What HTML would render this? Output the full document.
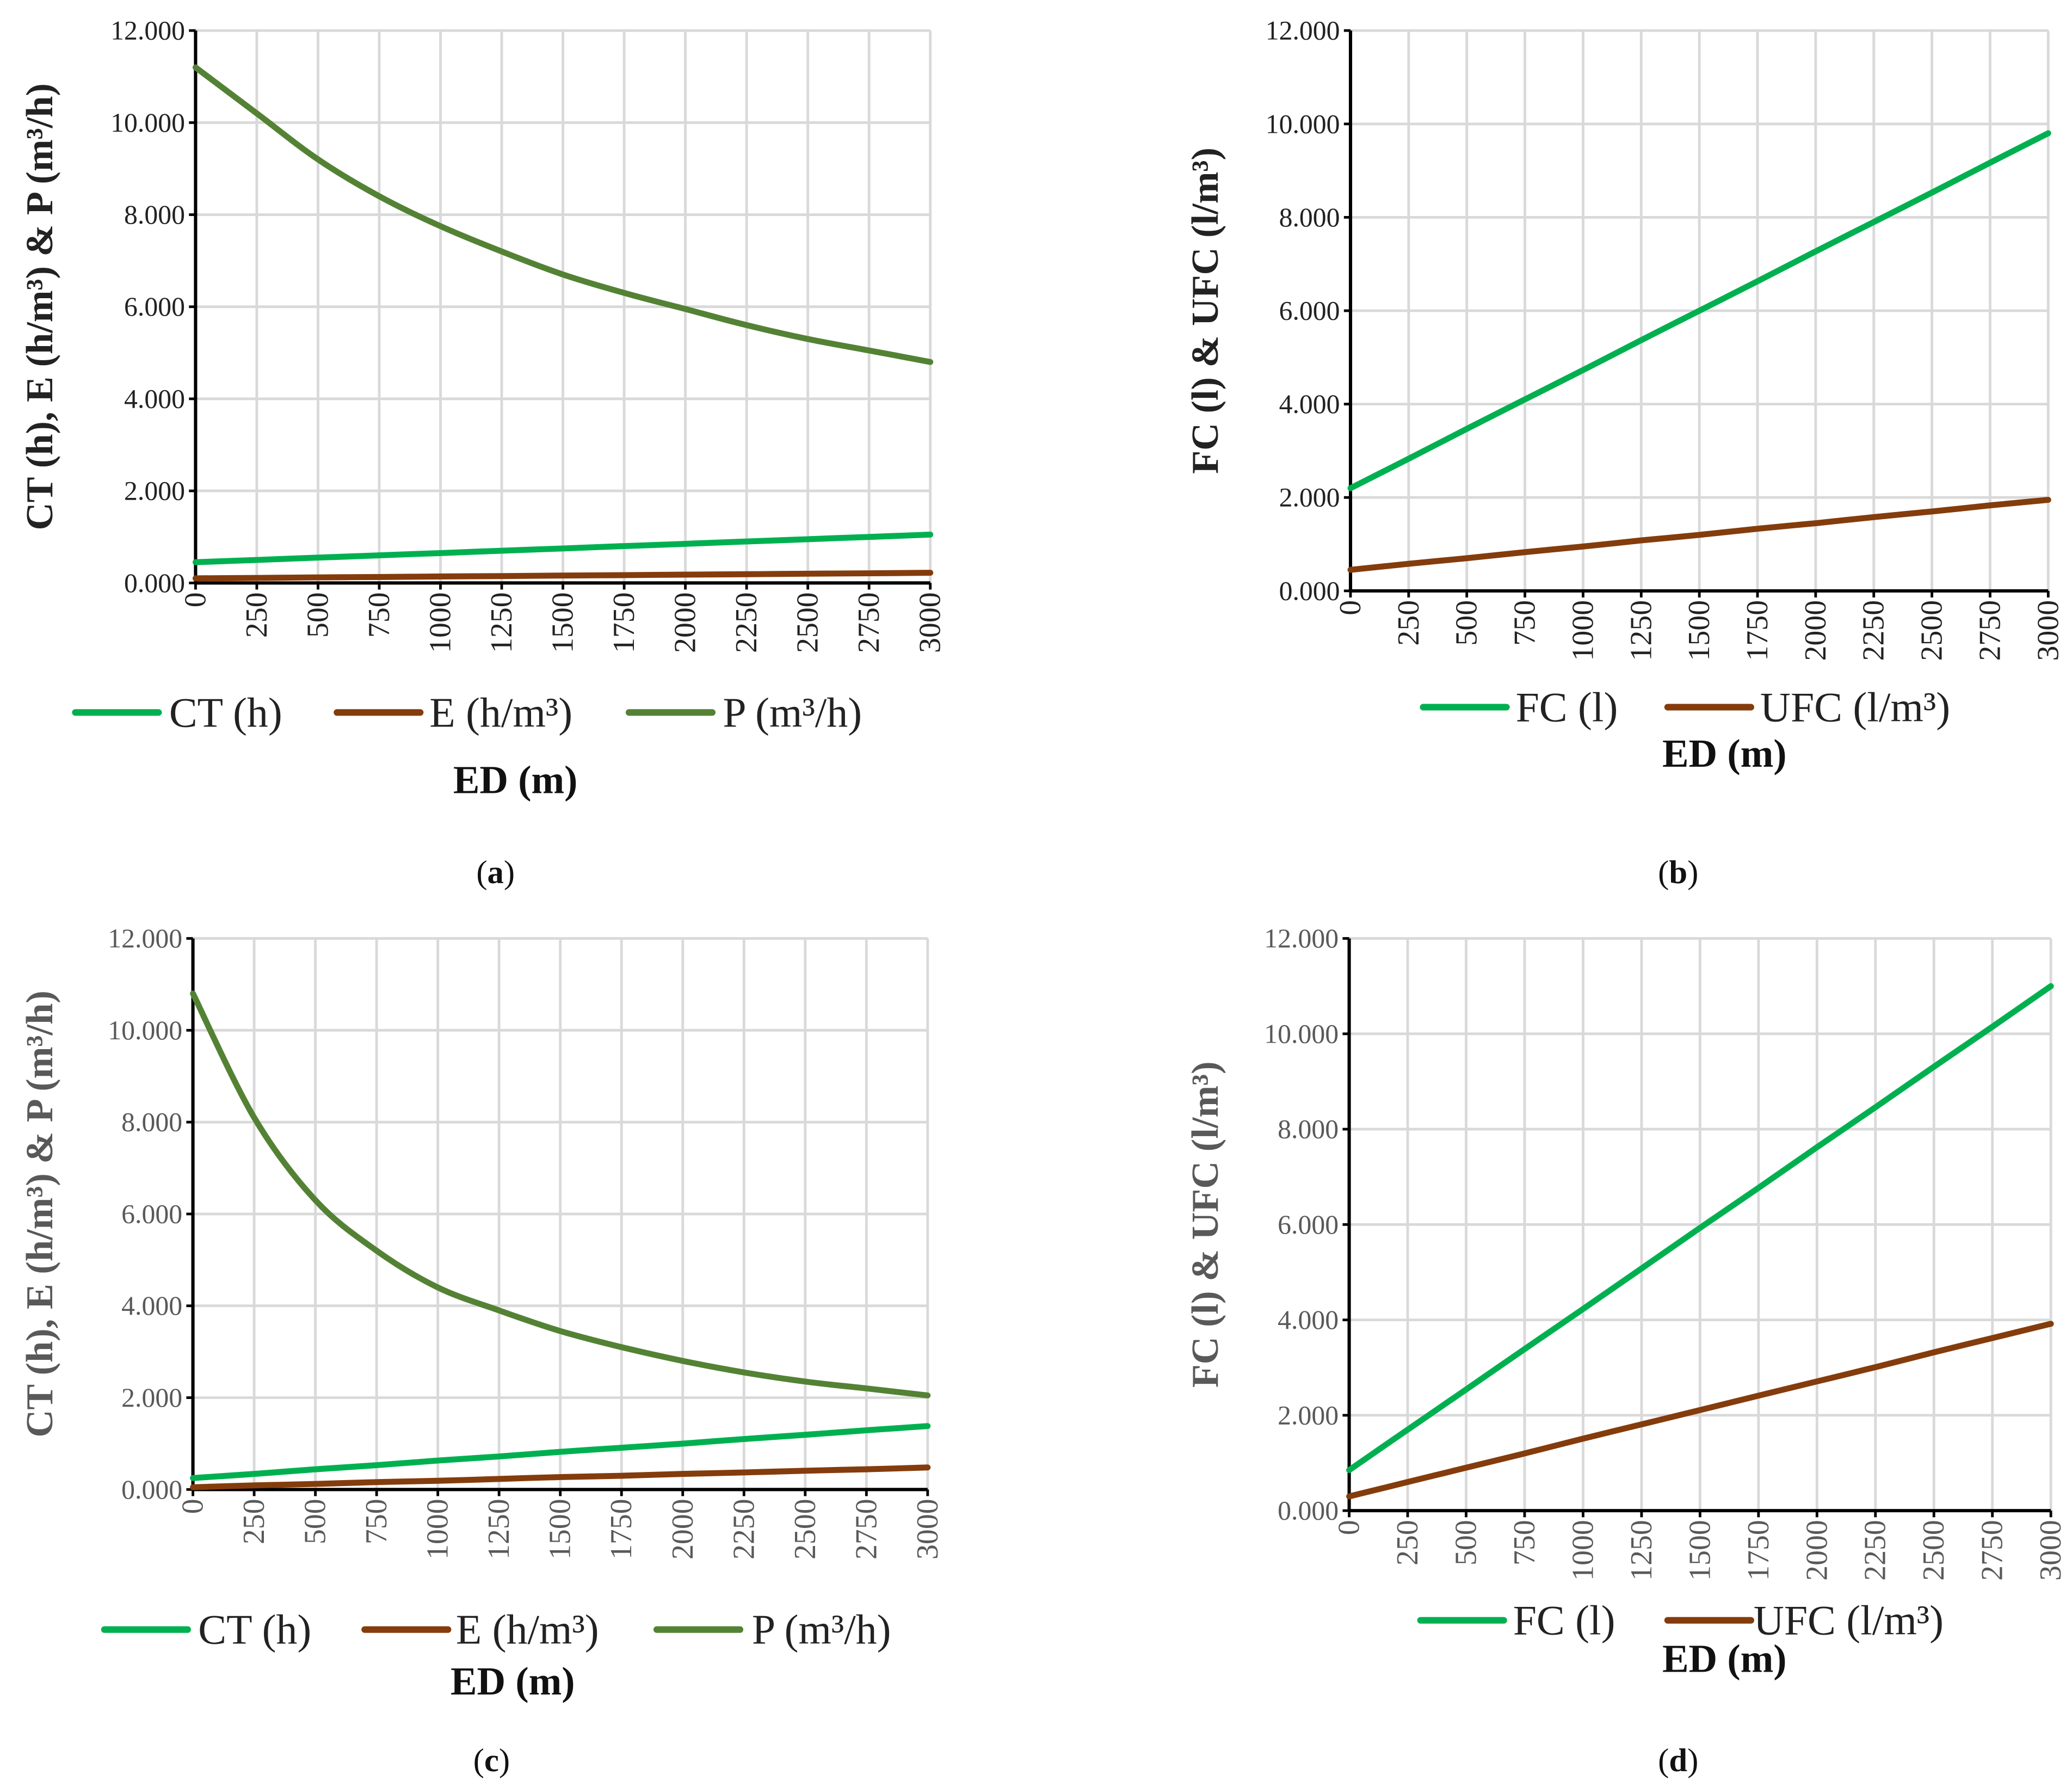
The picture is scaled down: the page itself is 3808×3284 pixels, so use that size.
<!DOCTYPE html>
<html><head><meta charset="utf-8"><style>
html,body{margin:0;padding:0;background:#fff}
svg{display:block}
text{font-family:"Liberation Serif",serif}
</style></head><body>
<svg id="s" width="3808" height="3284" viewBox="0 0 1568 1352" xmlns="http://www.w3.org/2000/svg"></svg>
<script>
const xCats=[0,250,500,750,1000,1250,1500,1750,2000,2250,2500,2750,3000];
const yTicks=[0,2,4,6,8,10,12];
const yTickLabels=["0.000","2.000","4.000","6.000","8.000","10.000","12.000"];
const aCT=[0.45,0.50,0.55,0.60,0.65,0.70,0.75,0.80,0.85,0.90,0.95,1.00,1.05];
const aE=[0.10,0.11,0.12,0.13,0.14,0.15,0.16,0.17,0.18,0.19,0.20,0.21,0.22];
const aP=[11.2,10.2,9.2,8.4,7.75,7.2,6.7,6.3,5.95,5.6,5.3,5.05,4.8];
const bFC=[2.2,2.83,3.47,4.1,4.73,5.37,6.0,6.63,7.27,7.9,8.53,9.17,9.8];
const bUFC=[0.45,0.58,0.7,0.83,0.95,1.08,1.2,1.33,1.45,1.58,1.7,1.83,1.95];
const cCT=[0.25,0.34,0.44,0.53,0.63,0.72,0.82,0.91,1.0,1.1,1.19,1.29,1.38];
const cE=[0.05,0.09,0.12,0.16,0.19,0.23,0.27,0.30,0.34,0.37,0.41,0.44,0.48];
const cP=[10.8,8.1,6.3,5.2,4.4,3.9,3.45,3.1,2.8,2.55,2.35,2.2,2.05];
const dFC=[0.85,1.7,2.54,3.39,4.23,5.08,5.93,6.77,7.62,8.46,9.31,10.15,11.0];
const dUFC=[0.3,0.6,0.9,1.2,1.51,1.81,2.11,2.41,2.71,3.01,3.32,3.62,3.92];

const NS="http://www.w3.org/2000/svg";
const svg=document.getElementById('s');
function mk(tag,attrs,parent,txt){const e=document.createElementNS(NS,tag);for(const k in attrs)e.setAttribute(k,attrs[k]);if(txt!==undefined)e.textContent=txt;(parent||svg).appendChild(e);return e;}
function smooth(pts){
  let d='M'+pts[0][0].toFixed(1)+','+pts[0][1].toFixed(1);
  for(let i=0;i<pts.length-1;i++){
    const p0=pts[Math.max(0,i-1)],p1=pts[i],p2=pts[i+1],p3=pts[Math.min(pts.length-1,i+2)];
    const c1=[p1[0]+(p2[0]-p0[0])/6,p1[1]+(p2[1]-p0[1])/6];
    const c2=[p2[0]-(p3[0]-p1[0])/6,p2[1]-(p3[1]-p1[1])/6];
    d+=` C${c1[0].toFixed(1)},${c1[1].toFixed(1)} ${c2[0].toFixed(1)},${c2[1].toFixed(1)} ${p2[0].toFixed(1)},${p2[1].toFixed(1)}`;
  }
  return d;
}
const G='#00b050',B='#843c0c',O='#548235';
const panels=[
 {id:'a',x0:148,x1:704,y0:441,y1:23,tc:'#222',title:'CT (h), E (h/m³) & P (m³/h)',tx:30,
  series:[[aCT,G,'CT (h)'],[aE,B,'E (h/m³)'],[aP,O,'P (m³/h)']],
  leg:[[57,131],[255,328],[476,550]],ly:539,edy:590,edx:390,lab:'a',labx:375,laby:660},
 {id:'b',x0:1022,x1:1550,y0:447,y1:23,tc:'#222',title:'FC (l) & UFC (l/m³)',tx:912,
  series:[[bFC,G,'FC (l)'],[bUFC,B,'UFC (l/m³)']],
  leg:[[1077,1150],[1262,1335]],ly:535,edy:570,edx:1305,lab:'b',labx:1270,laby:660},
 {id:'c',x0:146,x1:702,y0:1127,y1:710,tc:'#595959',title:'CT (h), E (h/m³) & P (m³/h)',tx:30,
  series:[[cCT,G,'CT (h)'],[cE,B,'E (h/m³)'],[cP,O,'P (m³/h)']],
  leg:[[79,153],[276,348],[497,572]],ly:1233,edy:1272,edx:388,lab:'c',labx:372,laby:1332},
 {id:'d',x0:1021,x1:1552,y0:1143,y1:710,tc:'#595959',title:'FC (l) & UFC (l/m³)',tx:912,
  series:[[dFC,G,'FC (l)'],[dUFC,B,'UFC (l/m³)']],
  leg:[[1075,1148],[1262,1330]],ly:1226,edy:1255,edx:1305,lab:'d',labx:1270,laby:1332}
];
panels.forEach(p=>{
  const g=mk('g',{});
  
  
  const xs=v=>p.x0+(v-0)/(3000)*(p.x1-p.x0);
  const ys=v=>p.y0+(v/12)*(p.y1-p.y0);
  xCats.forEach((c,i)=>{
    if(i>0){const l=mk('line',{x1:xs(c),x2:xs(c),y1:p.y0,y2:p.y1,stroke:'#d9d9d9','stroke-width':2},g);
      }
    mk('line',{x1:xs(c),x2:xs(c),y1:p.y0,y2:p.y0+5,stroke:'#000','stroke-width':2},g);
    const t=mk('text',{x:xs(c),y:p.y0+7,'font-size':23,fill:p.tc,'text-anchor':'end','dominant-baseline':'central',transform:`rotate(-90 ${xs(c)} ${p.y0+7})`},g,String(c));
    
  });
  yTicks.forEach((v,i)=>{
    if(i>0){const l=mk('line',{x1:p.x0,x2:p.x1,y1:ys(v),y2:ys(v),stroke:'#d9d9d9','stroke-width':2},g);
      }
    mk('line',{x1:p.x0-5,x2:p.x0,y1:ys(v),y2:ys(v),stroke:'#000','stroke-width':2},g);
    const t=mk('text',{x:p.x0-8,y:ys(v),'font-size':20.5,fill:p.tc,'text-anchor':'end','dominant-baseline':'central'},g,yTickLabels[i]);
    
  });
  mk('line',{x1:p.x0,x2:p.x0,y1:p.y0,y2:p.y1,stroke:'#000','stroke-width':2.5},g);
  mk('line',{x1:p.x0,x2:p.x1,y1:p.y0,y2:p.y0,stroke:'#000','stroke-width':2.5},g);
  p.series.forEach((s,si)=>{
    const pts=s[0].map((v,i)=>[xs(xCats[i]),ys(v)]);
    const path=mk('path',{d:smooth(pts),fill:'none',stroke:s[1],'stroke-width':4.5,'stroke-linejoin':'round','stroke-linecap':'round'},g);
    
    
    const lx=p.leg[si];
    const le=mk('g',{},g);
    
    
    mk('line',{x1:lx[0],x2:lx[0]+63,y1:p.ly,y2:p.ly,stroke:s[1],'stroke-width':5,'stroke-linecap':'round'},le);
    mk('text',{x:lx[1]-3,y:p.ly,'font-size':32,fill:'#222','dominant-baseline':'central'},le,s[2]);
  });
  const yt=mk('text',{x:p.tx,y:(p.y0+p.y1)/2,'font-size':29,'font-weight':'bold',fill:p.tc,'text-anchor':'middle','dominant-baseline':'central',transform:`rotate(-90 ${p.tx} ${(p.y0+p.y1)/2})`},g,p.title);
  
  const xt=mk('text',{x:p.edx,y:p.edy,'font-size':30,'font-weight':'bold',fill:'#111','text-anchor':'middle','dominant-baseline':'central'},g,'ED (m)');
  
  const lb=mk('text',{x:p.labx,y:p.laby,'font-size':25,fill:'#111','text-anchor':'middle','dominant-baseline':'central'},g);
  
  mk('tspan',{},lb,'(');mk('tspan',{'font-weight':'bold'},lb,p.lab);mk('tspan',{},lb,')');
});
</script>
</body></html>
